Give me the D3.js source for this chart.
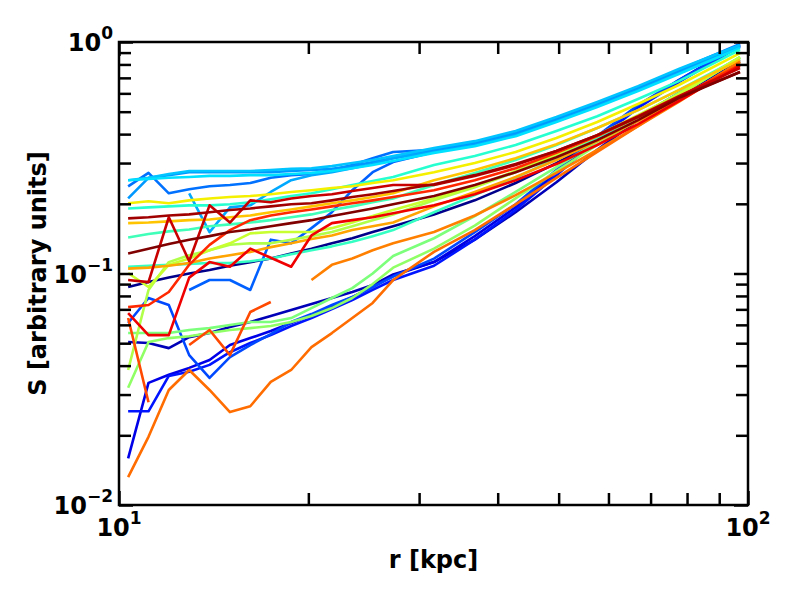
<!DOCTYPE html>
<html lang="en">
<head>
<meta charset="UTF-8">
<title>S vs r</title>
<script src="https://d3js.org/d3.v7.min.js"></script>
<style>
  body { margin: 0; background: #fff; }
  svg text { font-family: "DejaVu Sans", sans-serif; font-weight: bold; fill: #000; }
</style>
</head>
<body>
<div id="chart"></div>
<script>
// radius grid (kpc), shared by every curve
const rValues = [10.34, 11.14, 12.00, 12.93, 13.93, 15.01, 16.17, 17.43, 18.78, 20.23, 21.80,
                 23.49, 25.31, 27.28, 31.68, 36.78, 42.71, 49.59, 57.59, 66.86, 77.62, 97.11];

// one curve per array (null = no value)
const navy1 = [0.0874, 0.0918, 0.096, 0.100, 0.1035, 0.108, 0.112, 0.116, 0.122, 0.128, 0.135, 0.142, 0.151, 0.160, 0.180, 0.207, 0.246, 0.300, 0.373, 0.474, 0.602, 0.836];
const navy2 = [0.0506, 0.0501, 0.0476, 0.0531, 0.0553, 0.0587, 0.0617, 0.0655, 0.0695, 0.0738, 0.0784, 0.0832, 0.0891, 0.099, 0.112, 0.140, 0.184, 0.248, 0.342, 0.460, 0.590, 0.820];
const blue1 = [0.0159, 0.0337, 0.0365, 0.0391, 0.0423, 0.0491, 0.0526, 0.0564, 0.0611, 0.0661, 0.0724, 0.0791, 0.0874, 0.098, 0.112, 0.145, 0.193, 0.274, 0.389, 0.529, 0.685, 0.980];
const blue2 = [0.0254, 0.0254, 0.0361, 0.0376, 0.0403, 0.0457, 0.0501, 0.0542, 0.0593, 0.0642, 0.0702, 0.0768, 0.0849, 0.0937, 0.108, 0.140, 0.188, 0.266, 0.377, 0.519, 0.671, 0.961];
const blue3 = [0.0611, 0.0784, 0.0731, 0.0444, 0.0354, 0.0435, 0.0491, 0.0547, 0.0617, 0.0668, 0.0731, 0.0791, 0.0874, 0.097, 0.116, 0.151, 0.199, 0.280, 0.392, 0.534, 0.685, 0.961];
const blue4 = [null, null, null, 0.0849, 0.0937, 0.0937, 0.0849, 0.140, 0.135, 0.157, 0.184, 0.229, 0.274, 0.303, 0.335, 0.362, 0.404, 0.464, 0.540, 0.632, 0.749, 0.970];
const lblue1 = [0.238, 0.272, 0.222, 0.231, 0.238, 0.241, 0.246, 0.259, 0.266, 0.269, 0.280, 0.294, 0.315, 0.335, 0.342, 0.370, 0.408, 0.469, 0.545, 0.639, 0.757, 0.980];
const lblue2 = [0.211, 0.259, 0.266, 0.274, 0.274, 0.274, 0.274, 0.274, 0.277, 0.280, 0.283, 0.291, 0.303, 0.315, 0.342, 0.366, 0.404, 0.464, 0.540, 0.632, 0.749, 0.961];
const lblue3 = [null, null, null, 0.222, 0.151, 0.193, 0.197, 0.225, 0.253, 0.266, 0.274, 0.285, 0.297, 0.315, 0.335, 0.359, 0.396, 0.455, 0.529, 0.620, 0.734, 0.951];
const cyan1 = [0.253, 0.259, 0.269, 0.277, 0.277, 0.277, 0.277, 0.280, 0.283, 0.285, 0.291, 0.300, 0.309, 0.322, 0.348, 0.373, 0.413, 0.474, 0.551, 0.645, 0.764, 0.970];
const cyan2 = [0.253, 0.256, 0.259, 0.261, 0.264, 0.264, 0.266, 0.266, 0.269, 0.272, 0.277, 0.285, 0.294, 0.306, 0.332, 0.355, 0.392, 0.451, 0.524, 0.614, 0.727, 0.942];
const turq1 = [0.191, 0.193, 0.195, 0.197, 0.197, 0.199, 0.203, 0.209, 0.216, 0.222, 0.231, 0.241, 0.251, 0.261, 0.294, 0.322, 0.359, 0.413, 0.478, 0.567, 0.678, 0.924];
const turq2 = [0.143, 0.148, 0.152, 0.155, 0.160, 0.163, 0.166, 0.170, 0.175, 0.180, 0.188, 0.195, 0.203, 0.211, 0.241, 0.272, 0.309, 0.359, 0.425, 0.508, 0.620, 0.853];
const aqua = [0.107, 0.108, 0.109, 0.110, 0.111, 0.111, 0.113, 0.116, 0.121, 0.126, 0.131, 0.137, 0.145, 0.154, 0.184, 0.218, 0.259, 0.315, 0.385, 0.478, 0.596, 0.861];
const green1 = [0.0553, 0.0553, 0.0553, 0.0570, 0.0581, 0.0599, 0.0617, 0.0617, 0.0642, 0.0709, 0.0784, 0.0865, 0.100, 0.119, 0.142, 0.177, 0.225, 0.288, 0.370, 0.474, 0.602, 0.861];
const green2 = [0.0321, 0.0506, 0.0526, 0.0536, 0.0553, 0.0570, 0.0581, 0.0593, 0.0617, 0.0655, 0.0709, 0.0784, 0.0900, 0.106, 0.128, 0.161, 0.211, 0.277, 0.359, 0.464, 0.590, 0.853];
const ygreen1 = [0.0383, 0.0849, 0.112, 0.120, 0.126, 0.133, 0.135, 0.135, 0.140, 0.145, 0.151, 0.160, 0.170, 0.180, 0.207, 0.236, 0.274, 0.325, 0.392, 0.478, 0.590, 0.853];
const ygreen2 = [0.1005, 0.0874, 0.109, 0.116, 0.126, 0.135, 0.149, 0.151, 0.151, 0.151, 0.157, 0.166, 0.177, 0.188, 0.211, 0.238, 0.277, 0.328, 0.396, 0.483, 0.596, 0.861];
const yellow1 = [0.201, 0.205, 0.201, 0.207, 0.211, 0.214, 0.216, 0.220, 0.225, 0.229, 0.234, 0.238, 0.246, 0.253, 0.274, 0.300, 0.335, 0.385, 0.451, 0.540, 0.652, 0.896];
const yellow2 = [0.165, 0.166, 0.168, 0.170, 0.171, 0.175, 0.178, 0.184, 0.189, 0.195, 0.201, 0.207, 0.214, 0.222, 0.253, 0.280, 0.315, 0.362, 0.425, 0.508, 0.620, 0.836];
const orange1 = [0.105, 0.106, 0.108, 0.111, 0.116, 0.120, 0.124, 0.130, 0.135, 0.141, 0.146, 0.154, 0.160, 0.166, 0.195, 0.225, 0.261, 0.309, 0.373, 0.455, 0.562, 0.820];
const orange2 = [null, null, null, null, null, null, null, null, null, 0.0937, 0.109, 0.116, 0.126, 0.135, 0.151, 0.178, 0.218, 0.272, 0.342, 0.433, 0.551, 0.811];
const orange3 = [0.0132, 0.0197, 0.0314, 0.0383, 0.0314, 0.0252, 0.0267, 0.0340, 0.0383, 0.0481, 0.0553, 0.0642, 0.0746, 0.0937, 0.124, 0.154, 0.199, 0.259, 0.335, 0.433, 0.562, 0.820];
const redorange = [0.0642, 0.0278, null, 0.0491, 0.0570, 0.0444, 0.0682, 0.0753, null, null, null, null, null, null, null, null, null, null, null, null, null, null];
const red1 = [0.0716, 0.0731, 0.0832, 0.109, 0.133, 0.154, 0.170, 0.178, 0.184, 0.189, 0.195, 0.201, 0.207, 0.214, 0.229, 0.253, 0.285, 0.332, 0.392, 0.474, 0.578, 0.796];
const red2 = [0.0675, 0.0542, 0.0542, 0.096, 0.112, 0.107, 0.128, 0.117, 0.107, 0.146, 0.165, 0.170, 0.175, 0.182, 0.197, 0.220, 0.253, 0.297, 0.359, 0.442, 0.556, 0.788];
const red3 = [0.0937, 0.0918, 0.175, 0.113, 0.197, 0.166, 0.207, 0.203, 0.211, 0.216, 0.220, 0.227, 0.234, 0.241, 0.241, 0.264, 0.294, 0.338, 0.396, 0.478, 0.584, 0.772];
const darkred1 = [0.173, 0.175, 0.178, 0.180, 0.184, 0.188, 0.191, 0.195, 0.199, 0.201, 0.207, 0.214, 0.220, 0.227, 0.243, 0.266, 0.297, 0.338, 0.396, 0.474, 0.578, 0.742];
const darkred2 = [0.122, 0.128, 0.134, 0.140, 0.145, 0.151, 0.155, 0.160, 0.165, 0.170, 0.177, 0.184, 0.191, 0.199, 0.216, 0.241, 0.274, 0.318, 0.377, 0.460, 0.573, 0.742];

const seriesList = [navy1, navy2, blue1, blue2, blue3, blue4, lblue1, lblue2, lblue3, cyan1, cyan2,
                    turq1, turq2, aqua, green1, green2, ygreen1, ygreen2, yellow1, yellow2,
                    orange1, orange2, orange3, redorange, red1, red2, red3, darkred1, darkred2];
const seriesColors = ["#00008b", "#0000b8", "#0000e8", "#0014ff", "#0048ff", "#0060ff", "#0070ff", "#0098ff", "#00a8ff", "#00c4ff", "#00e0ff",
                      "#26ffd0", "#40ffb8", "#36ffc4", "#7cff7a", "#90ff66", "#b0ff48", "#c8ff30", "#f4f000", "#ffc400",
                      "#ffa400", "#ff8000", "#ff6c00", "#ff4800", "#ff2800", "#f00000", "#c80000", "#a00000", "#800000"];

const xMajor = [10, 100];
const xMinor = [20, 30, 40, 50, 60, 70, 80, 90];
const yMajor = [0.01, 0.1, 1];
const yMinor = [0.02, 0.03, 0.04, 0.05, 0.06, 0.07, 0.08, 0.09, 0.2, 0.3, 0.4, 0.5, 0.6, 0.7, 0.8, 0.9];
const xLabelExp = ["1", "2"];
const yLabelExp = ["\u22122", "\u22121", "0"];

const width = 800, height = 600;
const margin = {top: 42, right: 52, bottom: 95, left: 119};

const svg = d3.select("#chart").append("svg")
    .attr("width", width)
    .attr("height", height);

const x = d3.scaleLog().domain([10, 100]).range([margin.left, width - margin.right]);
const y = d3.scaleLog().domain([0.01, 1]).range([height - margin.bottom, margin.top]);

// curves
const line = d3.line()
    .defined(d => d[1] != null)
    .x(d => x(d[0]))
    .y(d => y(d[1]));

seriesList.forEach((s, i) => {
    svg.append("path")
        .datum(rValues.map((r, j) => [r, s[j]]))
        .attr("d", line)
        .attr("fill", "none")
        .attr("stroke", seriesColors[i])
        .attr("stroke-width", 2.6)
        .attr("stroke-linejoin", "round");
});

// inward ticks on all four sides
const majorLen = 14, minorLen = 12;
function ticks(axis, tx, ty, vals, len) {
    const g = svg.append("g")
        .attr("transform", `translate(${tx},${ty})`)
        .call(axis.tickValues(vals).tickSize(-len).tickFormat(""));
    g.select(".domain").remove();
    g.selectAll("line").attr("stroke", "#000").attr("stroke-width", 2.5);
}
const xB = height - margin.bottom, xT = margin.top, yL = margin.left, yR = width - margin.right;
ticks(d3.axisBottom(x), 0, xB, xMinor, minorLen);
ticks(d3.axisBottom(x), 0, xB, xMajor, majorLen);
ticks(d3.axisTop(x), 0, xT, xMinor, minorLen);
ticks(d3.axisTop(x), 0, xT, xMajor, majorLen);
ticks(d3.axisLeft(y), yL, 0, yMinor, minorLen);
ticks(d3.axisLeft(y), yL, 0, yMajor, majorLen);
ticks(d3.axisRight(y), yR, 0, yMinor, minorLen);
ticks(d3.axisRight(y), yR, 0, yMajor, majorLen);

// frame
svg.append("rect")
    .attr("x", margin.left).attr("y", margin.top)
    .attr("width", width - margin.left - margin.right)
    .attr("height", height - margin.top - margin.bottom)
    .attr("fill", "none").attr("stroke", "#000").attr("stroke-width", 2.5);

// tick labels 10^n
function powLabel(px, py, exp, anchor) {
    const t = svg.append("text")
        .attr("x", px).attr("y", py)
        .attr("text-anchor", anchor)
        .style("font-size", "24px");
    t.append("tspan").text("10");
    t.append("tspan").attr("dy", -12).style("font-size", "17px").text(exp);
}
xMajor.forEach((v, i) => powLabel(x(v), xB + 31, xLabelExp[i], "middle"));
yMajor.forEach((v, i) => powLabel(yL - 6, y(v) + 9, yLabelExp[i], "end"));

// axis titles
svg.append("text")
    .attr("x", (margin.left + width - margin.right) / 2)
    .attr("y", 568)
    .attr("text-anchor", "middle")
    .style("font-size", "24px")
    .text("r [kpc]");

svg.append("text")
    .attr("transform", `translate(46,${(margin.top + height - margin.bottom) / 2}) rotate(-90)`)
    .attr("text-anchor", "middle")
    .style("font-size", "24px")
    .text("S [arbitrary units]");
</script>
</body>
</html>
